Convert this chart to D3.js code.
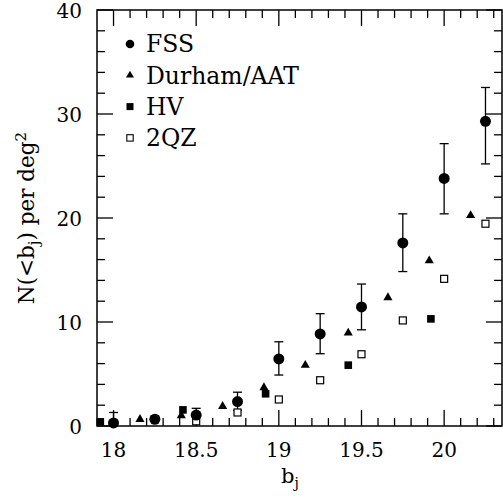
<!DOCTYPE html>
<html>
<head>
<meta charset="utf-8">
<script src="https://cdn.jsdelivr.net/npm/d3@7"></script>
<style>
  body { margin: 0; background: #fff; }
  svg { display: block; }
  text { font-family: "DejaVu Serif", "Liberation Serif", serif; fill: #000; }
</style>
</head>
<body>
<div id="chart"></div>
<script>
// FSS points with error bars
const fssX  = [18.0, 18.25, 18.5, 18.75, 19.0, 19.25, 19.5, 19.75, 20.0, 20.25];
const fssY  = [0.3, 0.65, 1.05, 2.35, 6.45, 8.85, 11.45, 17.6, 23.8, 29.3];
const fssHi = [1.3, 0.95, 1.7, 3.25, 8.1, 10.8, 13.65, 20.4, 27.15, 32.55];
const fssLo = [0, 0.35, 0.5, 1.5, 4.9, 6.95, 9.25, 14.85, 20.4, 25.2];

// Durham/AAT
const durX = [18.16, 18.41, 18.66, 18.91, 19.16, 19.42, 19.66, 19.91, 20.16];
const durY = [0.6, 0.95, 1.85, 3.65, 5.8, 8.9, 12.3, 15.85, 20.2];

// HV
const hvX = [17.92, 18.42, 18.92, 19.42, 19.92];
const hvY = [0.4, 1.55, 3.1, 5.85, 10.3];

// 2QZ
const qzX = [18.5, 18.75, 19.0, 19.25, 19.5, 19.75, 20.0, 20.25];
const qzY = [0.45, 1.3, 2.55, 4.4, 6.9, 10.15, 14.15, 19.45];

const xTicks = [18, 18.5, 19, 19.5, 20];
const yTicks = [0, 10, 20, 30, 40];
const legendNames = ["FSS", "Durham/AAT", "HV", "2QZ"];

const width = 503, height = 499;
const mLeft = 97, mRight = 502, mTop = 10, mBottom = 426;

const x = d3.scaleLinear().domain([17.9, 20.35]).range([mLeft, mRight]);
const y = d3.scaleLinear().domain([0, 40]).range([mBottom, mTop]);

const svg = d3.select("#chart").append("svg")
    .attr("width", width)
    .attr("height", height);

// minor / major ticks on all sides
const xMinor = d3.range(18.0, 20.35, 0.1).map(v => +v.toFixed(1));
const yMinor = d3.range(0, 40.01, 2);
const tickG = svg.append("g").attr("stroke", "#000").attr("stroke-width", 1.3);

xMinor.forEach(v => {
    const major = xTicks.includes(v);
    const len = major ? 16 : 8;
    tickG.append("line").attr("x1", x(v)).attr("x2", x(v)).attr("y1", mBottom).attr("y2", mBottom - len);
    tickG.append("line").attr("x1", x(v)).attr("x2", x(v)).attr("y1", mTop).attr("y2", mTop + len);
});
yMinor.forEach(v => {
    const major = yTicks.includes(v);
    const len = major ? 16 : 8;
    tickG.append("line").attr("y1", y(v)).attr("y2", y(v)).attr("x1", mLeft).attr("x2", mLeft + len);
    tickG.append("line").attr("y1", y(v)).attr("y2", y(v)).attr("x1", mRight).attr("x2", mRight - len);
});

// frame
svg.append("rect")
    .attr("x", mLeft).attr("y", mTop)
    .attr("width", mRight - mLeft).attr("height", mBottom - mTop)
    .attr("fill", "none").attr("stroke", "#000").attr("stroke-width", 1.5);

// tick labels
svg.append("g").selectAll("text").data(xTicks).join("text")
    .attr("x", d => x(d)).attr("y", 457)
    .attr("text-anchor", "middle").attr("font-size", 20)
    .text(d => d);
svg.append("g").selectAll("text").data(yTicks).join("text")
    .attr("x", 82).attr("y", d => y(d) + 7.5)
    .attr("text-anchor", "end").attr("font-size", 20)
    .text(d => d);

// axis titles
const xt = svg.append("text").attr("x", 290).attr("y", 483)
    .attr("text-anchor", "middle").attr("font-size", 21);
xt.append("tspan").text("b");
xt.append("tspan").attr("font-size", 14).attr("dy", 5).text("j");

const yt = svg.append("text")
    .attr("transform", `translate(34, ${(mTop + mBottom) / 2}) rotate(-90)`)
    .attr("text-anchor", "middle").attr("font-size", 21.5);
yt.append("tspan").text("N(<b");
yt.append("tspan").attr("font-size", 15).attr("dy", 5).text("j");
yt.append("tspan").attr("dy", -5).text(") per deg");
yt.append("tspan").attr("font-size", 15).attr("dy", -8).text("2");

// error bars
const eb = svg.append("g").attr("stroke", "#000").attr("stroke-width", 1.3);
fssX.forEach((v, i) => {
    eb.append("line").attr("x1", x(v)).attr("x2", x(v)).attr("y1", y(fssLo[i])).attr("y2", y(fssHi[i]));
    if (i > 2) {
        [fssLo[i], fssHi[i]].forEach(e => {
            eb.append("line").attr("x1", x(v) - 4.5).attr("x2", x(v) + 4.5).attr("y1", y(e)).attr("y2", y(e));
        });
    } else {
        eb.append("line").attr("x1", x(v) - 4.5).attr("x2", x(v) + 4.5).attr("y1", y(fssHi[i])).attr("y2", y(fssHi[i]));
    }
});

const tri = d3.symbol().type(d3.symbolTriangle);

// markers
svg.append("g").selectAll("rect").data(qzX).join("rect")
    .attr("x", (d, i) => x(d) - 3.5).attr("y", (d, i) => y(qzY[i]) - 3.5)
    .attr("width", 7).attr("height", 7)
    .attr("fill", "#fff").attr("stroke", "#000").attr("stroke-width", 1.2);
svg.append("g").selectAll("rect").data(hvX).join("rect")
    .attr("x", (d, i) => x(d) - 3.8).attr("y", (d, i) => y(hvY[i]) - 3.8)
    .attr("width", 7.6).attr("height", 7.6).attr("fill", "#000");
svg.append("g").selectAll("path").data(durX).join("path")
    .attr("d", tri.size(36))
    .attr("transform", (d, i) => `translate(${x(d)}, ${y(durY[i]) - 0.5})`)
    .attr("fill", "#000");
svg.append("g").selectAll("circle").data(fssX).join("circle")
    .attr("cx", d => x(d)).attr("cy", (d, i) => y(fssY[i]))
    .attr("r", 5.5).attr("fill", "#000");

// legend
const lg = svg.append("g");
legendNames.forEach((name, i) => {
    const cy = 44 + i * 31.3;
    if (i === 0) lg.append("circle").attr("cx", 130).attr("cy", cy).attr("r", 4.3);
    if (i === 1) lg.append("path").attr("d", tri.size(28)).attr("transform", `translate(130, ${cy})`);
    if (i === 2) lg.append("rect").attr("x", 126.5).attr("y", cy - 3.5).attr("width", 7).attr("height", 7);
    if (i === 3) lg.append("rect").attr("x", 126.8).attr("y", cy - 3.2).attr("width", 6.4).attr("height", 6.4)
        .attr("fill", "#fff").attr("stroke", "#000").attr("stroke-width", 1.1);
    lg.append("text").attr("x", 146).attr("y", cy + 8.4).attr("font-size", 23.5).text(name);
});
</script>
</body>
</html>
